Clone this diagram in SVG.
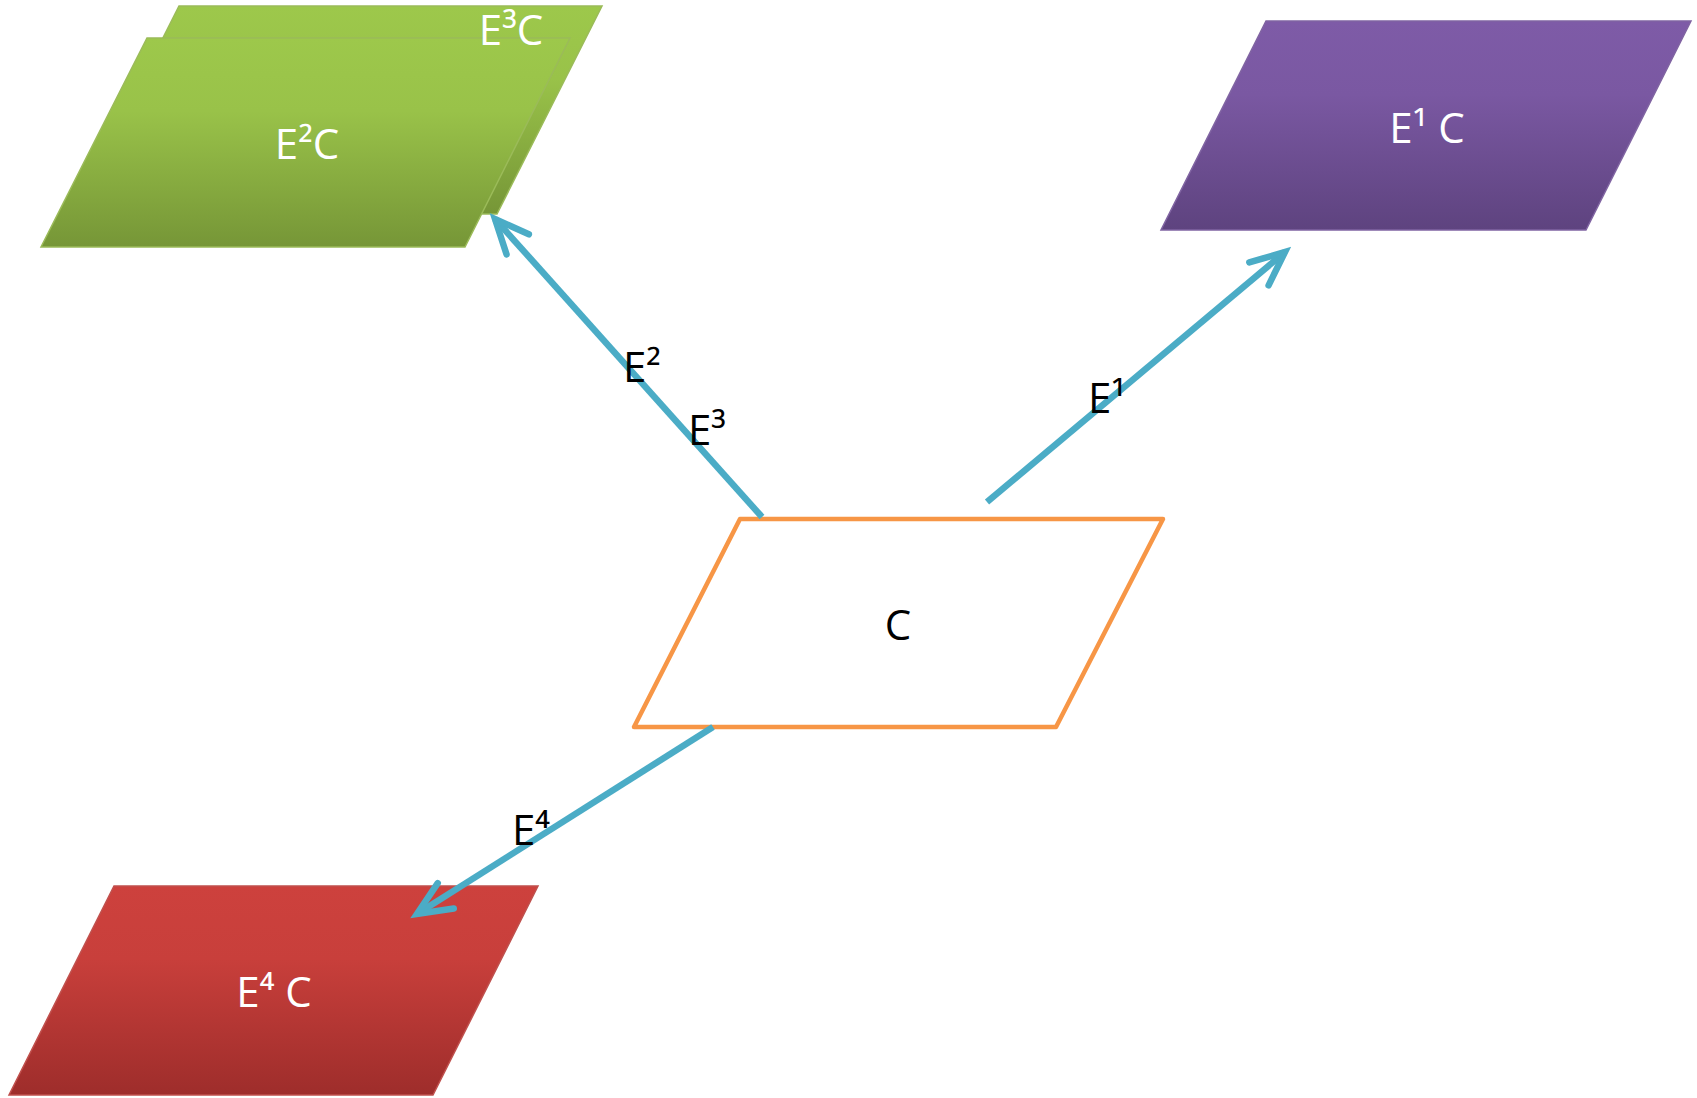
<svg xmlns="http://www.w3.org/2000/svg" width="1697" height="1098" viewBox="0 0 1697 1098">
<defs>
<linearGradient id="gGreen" x1="0" y1="0" x2="0" y2="1">
<stop offset="0" stop-color="#9DC84B"/><stop offset="0.35" stop-color="#99C249"/><stop offset="1" stop-color="#769637"/>
</linearGradient>
<linearGradient id="gPurple" x1="0" y1="0" x2="0" y2="1">
<stop offset="0" stop-color="#7E5BA7"/><stop offset="0.35" stop-color="#7A58A2"/><stop offset="1" stop-color="#5E437F"/>
</linearGradient>
<linearGradient id="gRed" x1="0" y1="0" x2="0" y2="1">
<stop offset="0" stop-color="#CD413D"/><stop offset="0.35" stop-color="#C83F3B"/><stop offset="1" stop-color="#9E2D2B"/>
</linearGradient>
<marker id="arr" markerUnits="userSpaceOnUse" markerWidth="60" markerHeight="60" viewBox="-45 -30 60 60" refX="0" refY="0" orient="auto">
<path d="M -34 -15 L 0 0 L -34 15" fill="none" stroke="#4BACC6" stroke-width="6.5" stroke-linecap="round" stroke-linejoin="miter"/>
</marker>
<style>
.lbl{font-family:"Open Sans","Noto Sans","DejaVu Sans",sans-serif;font-size:42px;}
.w{fill:#FFFFFF;text-anchor:middle;}
.b{fill:#000000;}
.conn{fill:none;stroke:#4BACC6;stroke-width:6.5;stroke-linecap:butt;}
</style>
</defs>
<rect width="1697" height="1098" fill="#FFFFFF"/>
<g id="node-E3C">
<polygon points="179,6 602,6 497,214 74,214" fill="url(#gGreen)" stroke="#9BBB59" stroke-width="1.5"/>
</g>
<g id="node-E2C">
<polygon points="147,38 570,38 465,247 41,247" fill="url(#gGreen)" stroke="#9BBB59" stroke-width="1.5"/>
<text class="lbl w" x="307" y="159">E²C</text>
</g>
<g id="node-E3C-label">
<text class="lbl w" x="511" y="45">E³C</text>
</g>
<g id="node-E1C">
<polygon points="1266,21 1691,21 1586,230 1161,230" fill="url(#gPurple)" stroke="#8064A2" stroke-width="1.5"/>
<text class="lbl w" x="1427" y="143">E¹ C</text>
</g>
<g id="node-C">
<polygon points="740,519 1163,519 1056,727 634,727" fill="#FFFFFF" stroke="#F79646" stroke-width="4.5" stroke-linejoin="round"/>
<text class="lbl b" x="898" y="640" text-anchor="middle">C</text>
</g>
<g id="node-E4C">
<polygon points="114,886 538,886 433,1095 9,1095" fill="url(#gRed)" stroke="#C0504D" stroke-width="1.5"/>
<text class="lbl w" x="274" y="1007">E⁴ C</text>
</g>
<g id="connectors">
<line class="conn" x1="762" y1="517" x2="495" y2="219" marker-end="url(#arr)"/>
<line class="conn" x1="987" y1="502" x2="1285" y2="252" marker-end="url(#arr)"/>
<line class="conn" x1="713" y1="727" x2="417" y2="914" marker-end="url(#arr)"/>
<text class="lbl b" x="623" y="382">E²</text>
<text class="lbl b" x="688" y="445">E³</text>
<text class="lbl b" x="1088" y="413">E¹</text>
<text class="lbl b" x="512" y="845">E⁴</text>
</g>
</svg>
